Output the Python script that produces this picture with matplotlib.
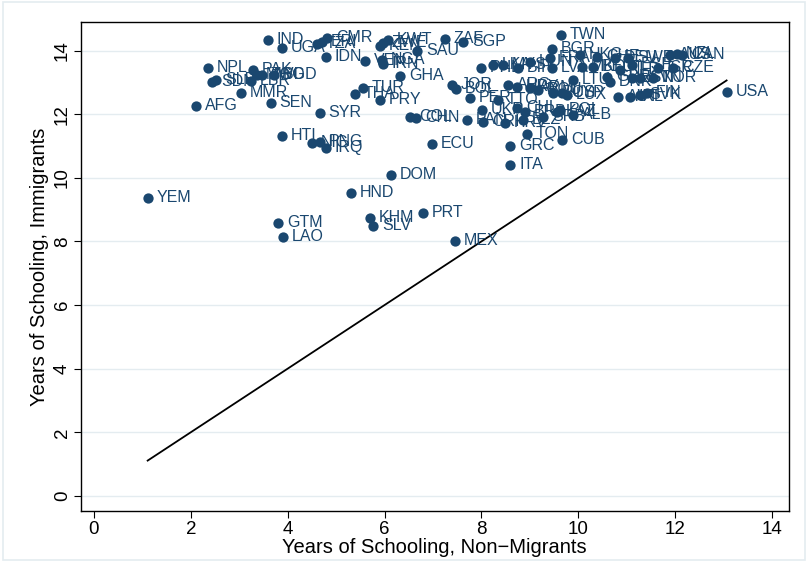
import matplotlib
matplotlib.use("Agg")
import matplotlib.pyplot as plt
import numpy as np

plt.rcParams['font.family'] = ['Liberation Sans', 'DejaVu Sans']

# country codes, schooling of non-migrants (x) and immigrants (y)
codes = ["YEM", "AFG", "NPL", "SDN", "SLE", "PAK", "MWI", "LBR", "BGD", "TGO",
         "MMR", "SEN", "SYR", "IND", "UGA", "TZA", "ERI", "CMR", "IDN", "KEN",
         "ZWE", "KWT", "SAU", "VEN", "NGA", "IRN", "GHA", "TUR", "THA", "PRY",
         "ZAF", "SGP", "TWN", "BGR", "JOR", "BOL", "PER", "COL", "CHN", "ECU",
         "DOM", "HND", "KHM", "SLV", "PRT", "MEX", "GTM", "LAO", "HTI", "NIC",
         "PNG", "IRQ", "GRC", "ITA", "TON", "CUB", "ALB", "POL", "USA", "CYP",
         "LTU", "PHL", "LKA", "MYS", "BIH", "HUN", "LVA", "MKD", "ARG", "URY",
         "ARM", "ROU", "RUS", "UKR", "TTO", "CHL", "BRB", "PAN", "CRI", "HRV",
         "BLZ", "SRB", "KAZ", "HKG", "CHE", "DEU", "SWE", "AUS", "NZL", "CAN",
         "BEL", "FRA", "NLD", "ESP", "ISR", "CZE", "GBR", "DNK", "EST", "SVN",
         "NOR", "LUX", "AUT", "SVK", "FIN", "IRL"]
school_natives = [1.11, 2.11, 2.35, 2.44, 2.52, 3.28, 3.36, 3.24, 3.72, 3.47,
                  3.03, 3.65, 4.66, 3.59, 3.88, 4.60, 4.71, 4.81, 4.79, 5.90,
                  5.96, 6.07, 6.67, 5.59, 5.94, 5.96, 6.32, 5.55, 5.39, 5.90,
                  7.24, 7.62, 9.64, 9.45, 7.39, 7.47, 7.76, 6.52, 6.65, 6.98,
                  6.13, 5.30, 5.70, 5.76, 6.79, 7.45, 3.80, 3.90, 3.88, 4.50,
                  4.66, 4.79, 8.59, 8.59, 8.94, 9.66, 9.89, 9.62, 13.06, 9.66,
                  9.89, 7.99, 8.24, 8.44, 8.75, 9.00, 9.45, 10.07, 8.54, 8.73,
                  9.00, 9.16, 9.47, 8.01, 8.34, 8.73, 8.90, 7.70, 8.03, 8.48,
                  8.85, 9.27, 9.56, 10.03, 10.38, 10.75, 11.02, 11.89, 12.03, 12.14,
                  10.30, 9.41, 10.86, 11.10, 11.64, 11.95, 10.59, 10.65, 11.10, 11.27,
                  11.54, 9.76, 10.82, 11.27, 11.41, 11.06]
school_immig = [9.37, 12.26, 13.46, 13.02, 13.08, 13.40, 13.24, 13.05, 13.24, 13.24,
                12.67, 12.36, 12.04, 14.34, 14.09, 14.21, 14.28, 14.40, 13.81, 14.15,
                14.25, 14.34, 13.99, 13.68, 13.71, 13.58, 13.21, 12.83, 12.64, 12.45,
                14.37, 14.28, 14.50, 14.06, 12.92, 12.80, 12.52, 11.92, 11.89, 11.07,
                10.09, 9.53, 8.74, 8.49, 8.90, 8.02, 8.58, 8.14, 11.32, 11.10,
                11.13, 10.94, 11.01, 10.41, 11.38, 11.19, 11.98, 12.14, 12.70, 12.67,
                13.08, 13.46, 13.55, 13.55, 13.46, 13.65, 13.46, 13.49, 12.92, 12.86,
                12.83, 12.77, 12.67, 12.14, 12.45, 12.20, 12.08, 11.82, 11.76, 11.73,
                11.82, 11.92, 12.08, 13.87, 13.81, 13.77, 13.77, 13.87, 13.90, 13.87,
                13.49, 13.77, 13.40, 13.55, 13.46, 13.46, 13.18, 13.02, 13.14, 13.14,
                13.14, 12.61, 12.55, 12.61, 12.67, 12.55]

x_ticks = [0, 2, 4, 6, 8, 10, 12, 14]
y_ticks = [0, 2, 4, 6, 8, 10, 12, 14]

navy = '#1a476f'

fig = plt.figure(figsize=(8.08, 5.62), dpi=100)
ax = fig.add_axes([0.100, 0.091, 0.876, 0.870])

for yt in y_ticks:
    ax.axhline(yt, color='#e4ecf0', lw=1.0, zorder=0)

ax.scatter(school_natives, school_immig, s=55, color=navy, zorder=3, linewidths=0)
for c, xv, yv in zip(codes, school_natives, school_immig):
    ax.annotate(c, (xv, yv), xytext=(6.5, 0), textcoords='offset points',
                va='center', ha='left', fontsize=11.5, color=navy, zorder=4)

# 45 degree line across the range of the data
lo, hi = min(school_natives), max(school_natives)
ax.plot([lo, hi], [lo, hi], color='black', lw=1.3, zorder=2)

ax.set_xlim(-0.27, 14.34)
ax.set_ylim(-0.47, 14.9)
ax.set_xticks(x_ticks)
ax.set_yticks(y_ticks)
ax.tick_params(axis='both', direction='out', length=5, width=0.8, labelsize=13.5,
               colors='black', pad=2)
for lab in ax.get_yticklabels():
    lab.set_rotation(90)
    lab.set_va('center')
for sp in ax.spines.values():
    sp.set_color('black')
    sp.set_linewidth(1.0)

ax.set_xlabel('Years of Schooling, Non\u2212Migrants', fontsize=14.5, labelpad=0)
ax.set_ylabel('Years of Schooling, Immigrants', fontsize=14.5, labelpad=4)

# light outer frame of the graph region
fig.patches.append(plt.Rectangle((0.004, 0.004), 0.992, 0.992, transform=fig.transFigure,
                                 fill=False, edgecolor='#e4ecf0', lw=1.2))

fig.savefig('out.png', dpi=100)
